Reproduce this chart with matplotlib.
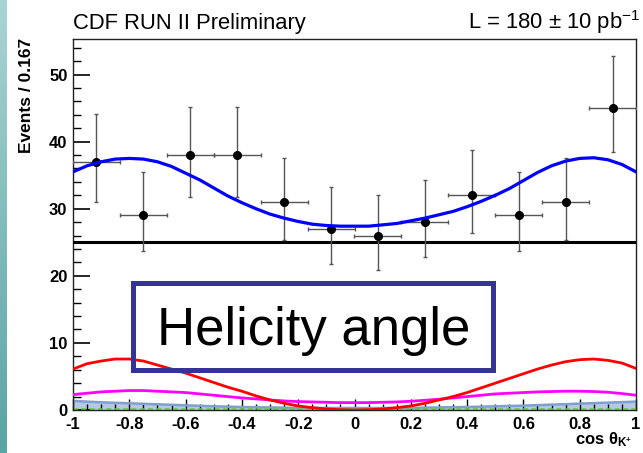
import matplotlib
matplotlib.use('Agg')
import matplotlib.pyplot as plt
from matplotlib.ticker import MultipleLocator, FixedLocator, FixedFormatter
from matplotlib.patches import Rectangle
import numpy as np

plt.rcParams['font.family'] = ['Liberation Sans', 'DejaVu Sans']
plt.rcParams['mathtext.fontset'] = 'custom'
plt.rcParams['mathtext.rm'] = 'Liberation Sans'
plt.rcParams['mathtext.it'] = 'Liberation Sans:italic'
plt.rcParams['mathtext.bf'] = 'Liberation Sans:bold'

# data points (12 bins of width 0.167)
bin_centers = [-0.917, -0.75, -0.583, -0.417, -0.25, -0.083,
               0.083, 0.25, 0.417, 0.583, 0.75, 0.917]
events = [37, 29, 38, 38, 31, 27, 26, 28, 32, 29, 31, 45]
err_lo = [6.0, 5.3, 6.2, 6.2, 5.7, 5.2, 5.1, 5.2, 5.6, 5.3, 5.6, 6.5]
err_hi = [7.1, 6.5, 7.2, 7.2, 6.6, 6.2, 6.1, 6.3, 6.8, 6.5, 6.6, 7.8]
half_width = 0.0833

# curves, every 0.05 in cos(theta)
curve_x = np.round(np.arange(-1, 1.0001, 0.05), 2)
total_fit = [35.5, 36.4, 37.0, 37.4, 37.5, 37.4, 37.0, 36.3, 35.3, 34.3,
             33.1, 31.9, 30.9, 30.0, 29.2, 28.6, 28.1, 27.7, 27.5, 27.4,
             27.4,
             27.4, 27.6, 27.8, 28.2, 28.6, 29.1, 29.6, 30.3, 31.1, 32.0,
             33.0, 34.2, 35.4, 36.4, 37.1, 37.5, 37.6, 37.3, 36.6, 35.5]
red_comp = [6.1, 6.9, 7.3, 7.6, 7.6, 7.3, 6.7, 6.1, 5.5, 4.8,
            4.1, 3.4, 2.8, 2.1, 1.5, 1.0, 0.6, 0.35, 0.15, 0.05,
            0.0,
            0.05, 0.15, 0.35, 0.6, 1.0, 1.5, 2.0, 2.6, 3.3, 4.0,
            4.7, 5.4, 6.1, 6.7, 7.2, 7.5, 7.6, 7.4, 7.0, 6.2]
magenta_comp = [2.3, 2.5, 2.7, 2.8, 2.9, 2.9, 2.8, 2.7, 2.6, 2.4,
                2.2, 2.0, 1.8, 1.65, 1.5, 1.35, 1.25, 1.2, 1.15, 1.1,
                1.1,
                1.1, 1.15, 1.2, 1.3, 1.45, 1.6, 1.8, 2.0, 2.2, 2.4,
                2.5, 2.6, 2.7, 2.75, 2.8, 2.8, 2.75, 2.65, 2.45, 2.2]
steel_x = [-1.0, -0.9, -0.8, -0.7, -0.6, -0.5, -0.4, -0.3, -0.2, -0.1, 0.0,
           0.1, 0.2, 0.3, 0.4, 0.5, 0.6, 0.7, 0.8, 0.9, 1.0]
steel_comp = [1.35, 1.15, 1.0, 0.85, 0.7, 0.55, 0.45, 0.38, 0.32, 0.3, 0.3,
              0.3, 0.32, 0.38, 0.45, 0.55, 0.65, 0.8, 0.95, 1.1, 1.25]
green_level = 0.2
baseline_level = 25

xtick_vals = [-1, -0.8, -0.6, -0.4, -0.2, 0, 0.2, 0.4, 0.6, 0.8, 1]
xtick_labels = ['-1', '-0.8', '-0.6', '-0.4', '-0.2', '0', '0.2', '0.4', '0.6', '0.8', '1']

W, H = 643, 453
fig = plt.figure(figsize=(W / 100, H / 100), dpi=100)
fig.patch.set_facecolor('white')

# teal slide edge on the left
strip = fig.add_axes([0, 0, 7 / W, 1])
grad = np.linspace(0, 1, 100).reshape(-1, 1)
strip.imshow(grad, aspect='auto', cmap=matplotlib.colors.LinearSegmentedColormap.from_list(
    'teal', ['#5aa5a5', '#a9d3d3']), origin='lower')
strip.axis('off')

ax = fig.add_axes([73 / W, (H - 410) / H, (636 - 73) / W, (410 - 39) / H])
ax.set_xlim(-1, 1)
ax.set_ylim(0, 55.3)

ax.fill_between(steel_x, 0, steel_comp, color='#b8c8e4', lw=0, zorder=1)
ax.plot(steel_x, steel_comp, color='#7f9fd0', lw=1.8, zorder=2)
ax.axhline(green_level, color='#66cc44', lw=1.2, ls=(0, (3, 2)), zorder=2)
ax.plot(curve_x, magenta_comp, color='#ff00ff', lw=2.0, zorder=3)
ax.plot(curve_x, red_comp, color='#ff0000', lw=2.0, zorder=3)
ax.axhline(baseline_level, color='black', lw=2.2, zorder=3)

ax.errorbar(bin_centers, events, yerr=[err_lo, err_hi], xerr=half_width,
            fmt='o', color='black', ms=5.5, ecolor='#555555', elinewidth=1.0,
            capsize=1.5, capthick=1.0, zorder=4)
ax.plot(curve_x, total_fit, color='#0000ff', lw=2.3, zorder=5)

ax.yaxis.set_major_locator(MultipleLocator(10))
ax.yaxis.set_minor_locator(MultipleLocator(2))
ax.xaxis.set_major_locator(FixedLocator(xtick_vals))
ax.xaxis.set_major_formatter(FixedFormatter(xtick_labels))
ax.xaxis.set_minor_locator(MultipleLocator(0.05))
ax.tick_params(axis='y', which='major', direction='in', length=12, width=1.2,
               pad=4, labelsize=12)
ax.tick_params(axis='y', which='minor', direction='in', length=6, width=1.0)
ax.tick_params(axis='x', which='major', direction='in', length=8, width=1.0,
               pad=5, labelsize=12)
ax.tick_params(axis='x', which='minor', direction='in', length=4, width=1.0)
for lab in ax.get_xticklabels() + ax.get_yticklabels():
    lab.set_fontweight('bold')
for sp in ax.spines.values():
    sp.set_linewidth(1.0)
    sp.set_color('#222222')

fig.text(73 / W, (H - 29) / H, 'CDF RUN II Preliminary', fontsize=15.8,
         ha='left', va='baseline')
fig.text(640 / W, (H - 29) / H, r'L = 180 $\pm$ 10 pb$^{-1}$', fontsize=15.8,
         ha='right', va='baseline')
fig.text(27 / W, (H - 38) / H, 'Events / 0.167', fontsize=12.5,
         fontweight='bold', rotation=90, ha='center', va='top')
fig.text(632 / W, (H - 444) / H, r'$\mathbf{cos\ \theta_{K^{+}}}$', fontsize=12,
         ha='right', va='baseline')

# label box
box = Rectangle((132.5 / W, (H - 369.5) / H), 360 / W, 87 / H,
                transform=fig.transFigure, fill=False, edgecolor='#333399',
                linewidth=3.6, zorder=10)
fig.add_artist(box)
fig.text(313.5 / W, (H - 345) / H, 'Helicity angle', fontsize=38,
         ha='center', va='baseline')

fig.savefig('out.png', dpi=100)
